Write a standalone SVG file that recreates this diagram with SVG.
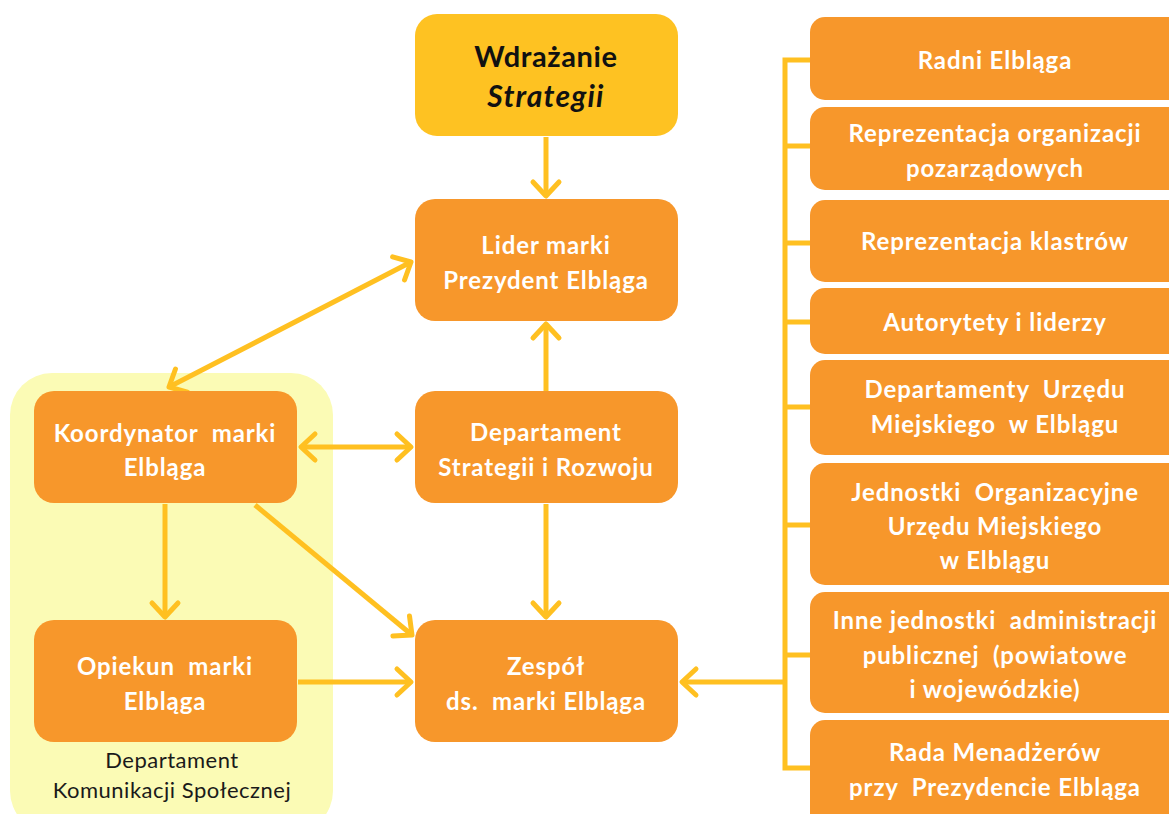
<svg xmlns="http://www.w3.org/2000/svg" width="1169" height="814" viewBox="0 0 1169 814">
<style>
.box{fill:#F7972B}
.t{font-family:Lato,"Liberation Sans",sans-serif;font-weight:bold;font-size:24px;letter-spacing:0.9px;fill:#FFFFFF;text-anchor:middle;white-space:pre}
.k{font-family:Lato,"Liberation Sans",sans-serif;font-size:22px;letter-spacing:0.5px;fill:#1a1a1a;text-anchor:middle}
.c{stroke:#FFC021;stroke-width:5;fill:none}
</style>
<defs>
<marker id="ah" markerUnits="userSpaceOnUse" markerWidth="40" markerHeight="40" refX="0" refY="0" viewBox="-20 -20 40 40" orient="auto-start-reverse" overflow="visible">
<path d="M-14,-13 L0,0 L-14,13" fill="none" stroke="#FFC021" stroke-width="5" stroke-linecap="round" stroke-linejoin="round"/>
</marker>
</defs>
<rect width="1169" height="814" fill="#FFFFFF"/>
<g id="grp-komunikacji">
<rect x="10" y="373" width="323" height="460" rx="42" fill="#FBFBB5"/>
<text class="k" x="172" y="768">Departament</text>
<text class="k" x="172" y="798">Komunikacji Społecznej</text>
</g>
<g id="connectors">
<line class="c" x1="546" y1="137" x2="546" y2="196" marker-end="url(#ah)"/>
<line class="c" x1="546" y1="391" x2="546" y2="324" marker-end="url(#ah)"/>
<line class="c" x1="546" y1="504" x2="546" y2="617" marker-end="url(#ah)"/>
<line class="c" x1="301" y1="447" x2="411" y2="447" marker-start="url(#ah)" marker-end="url(#ah)"/>
<line class="c" x1="169" y1="387" x2="411" y2="262" marker-start="url(#ah)" marker-end="url(#ah)"/>
<line class="c" x1="165" y1="504" x2="165" y2="617" marker-end="url(#ah)"/>
<line class="c" x1="255" y1="505" x2="412" y2="635" marker-end="url(#ah)"/>
<line class="c" x1="298" y1="682" x2="411" y2="682" marker-end="url(#ah)"/>
<line class="c" x1="785" y1="682" x2="682" y2="682" marker-end="url(#ah)"/>
<path class="c" d="M810,60 H785 V768 H810 M785,146 H810 M785,243 H810 M785,322 H810 M785,407 H810 M785,525 H810 M785,655 H810"/>
</g>
<g id="n-wdrazanie">
<rect x="415" y="14" width="263" height="122" rx="22" fill="#FEC222"/>
<text x="546" y="67" font-family="Lato,'Liberation Sans',sans-serif" font-weight="bold" font-size="29" letter-spacing="0.6" fill="#111" text-anchor="middle">Wdrażanie</text>
<text x="546" y="107" font-family="Lato,'Liberation Sans',sans-serif" font-weight="bold" font-style="italic" font-size="30" letter-spacing="1.2" fill="#111" text-anchor="middle">Strategii</text>
</g>
<g id="n-lider">
<rect class="box" x="415" y="199" width="263" height="122" rx="20"/>
<text class="t" x="546" y="254">Lider marki</text>
<text class="t" x="546" y="289">Prezydent Elbląga</text>
</g>
<g id="n-dsr">
<rect class="box" x="415" y="391" width="263" height="112" rx="20"/>
<text class="t" x="546" y="441">Departament</text>
<text class="t" x="546" y="476">Strategii i Rozwoju</text>
</g>
<g id="n-zespol">
<rect class="box" x="415" y="620" width="263" height="122" rx="20"/>
<text class="t" x="546" y="675">Zespół</text>
<text class="t" x="546" y="710">ds.  marki Elbląga</text>
</g>
<g id="n-koordynator">
<rect class="box" x="34" y="391" width="263" height="112" rx="20"/>
<text class="t" x="165" y="442">Koordynator  marki</text>
<text class="t" x="165" y="476">Elbląga</text>
</g>
<g id="n-opiekun">
<rect class="box" x="34" y="620" width="263" height="122" rx="20"/>
<text class="t" x="165" y="675">Opiekun  marki</text>
<text class="t" x="165" y="710">Elbląga</text>
</g>
<g id="n-radni">
<rect class="box" x="810" y="17" width="372" height="83" rx="15"/>
<text class="t" x="995" y="69">Radni Elbląga</text>
</g>
<g id="n-ngo">
<rect class="box" x="810" y="107" width="372" height="83" rx="15"/>
<text class="t" x="995" y="142">Reprezentacja organizacji</text>
<text class="t" x="995" y="177">pozarządowych</text>
</g>
<g id="n-klastry">
<rect class="box" x="810" y="200" width="372" height="82" rx="15"/>
<text class="t" x="995" y="250">Reprezentacja klastrów</text>
</g>
<g id="n-autorytety">
<rect class="box" x="810" y="288" width="372" height="66" rx="15"/>
<text class="t" x="995" y="331">Autorytety i liderzy</text>
</g>
<g id="n-departamenty">
<rect class="box" x="810" y="360" width="372" height="95" rx="15"/>
<text class="t" x="995" y="398">Departamenty  Urzędu</text>
<text class="t" x="995" y="433">Miejskiego  w Elblągu</text>
</g>
<g id="n-jednostki">
<rect class="box" x="810" y="463" width="372" height="122" rx="15"/>
<text class="t" x="995" y="501">Jednostki  Organizacyjne</text>
<text class="t" x="995" y="535">Urzędu Miejskiego</text>
<text class="t" x="995" y="569">w Elblągu</text>
</g>
<g id="n-inne">
<rect class="box" x="810" y="592" width="372" height="121" rx="15"/>
<text class="t" x="995" y="629">Inne jednostki  administracji</text>
<text class="t" x="995" y="664">publicznej  (powiatowe</text>
<text class="t" x="995" y="698">i wojewódzkie)</text>
</g>
<g id="n-rada">
<rect class="box" x="810" y="720" width="372" height="110" rx="15"/>
<text class="t" x="995" y="761">Rada Menadżerów</text>
<text class="t" x="995" y="796">przy  Prezydencie Elbląga</text>
</g>
</svg>
